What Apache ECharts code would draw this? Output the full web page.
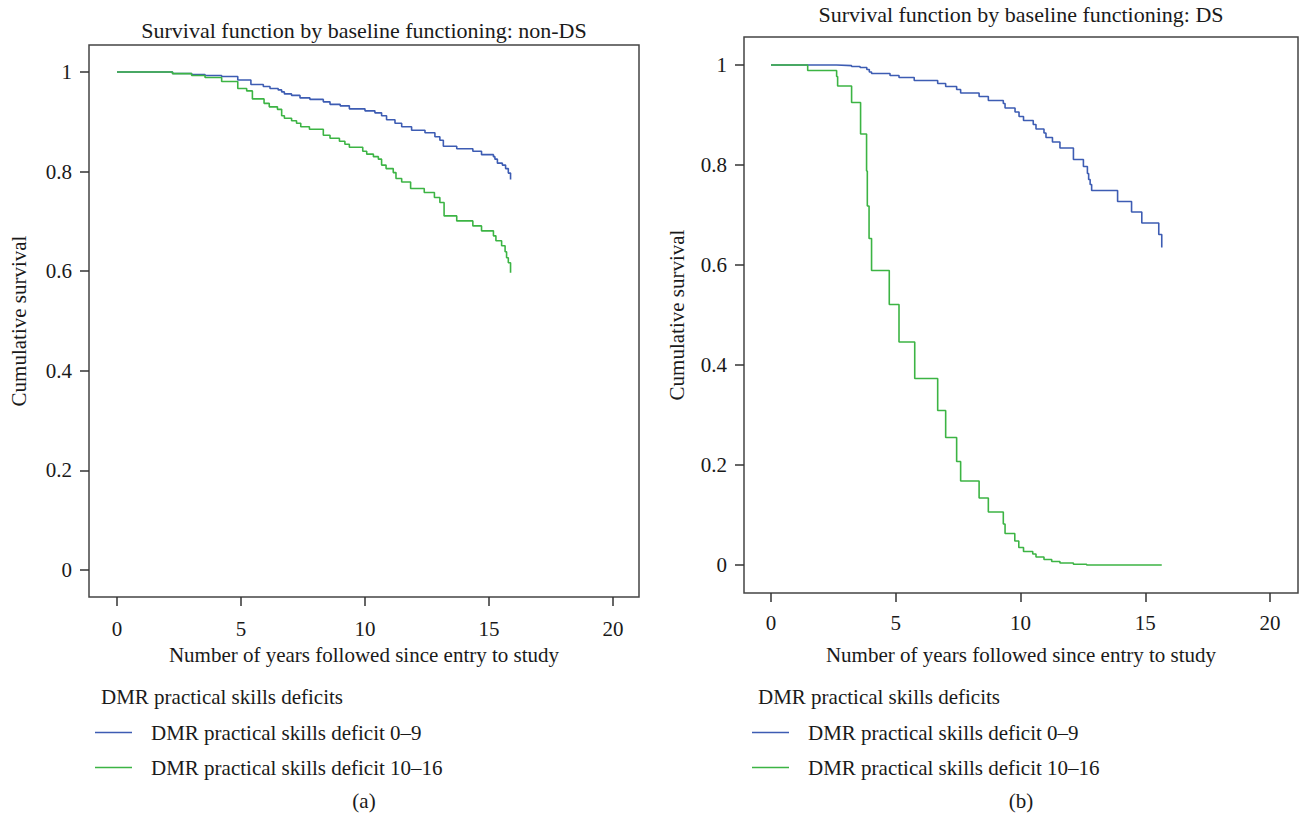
<!DOCTYPE html>
<html><head><meta charset="utf-8">
<script src="https://cdn.jsdelivr.net/npm/echarts@6/dist/echarts.min.js"></script>
<style>html,body{margin:0;padding:0;background:#fff}#c{width:1300px;height:815px}</style>
</head><body><div id="c"></div>
<script>
// ---- data ----
const xTicks = [0, 5, 10, 15, 20];
const yTicks = [0, 0.2, 0.4, 0.6, 0.8, 1];
const seriesNames = ['DMR practical skills deficit 0–9', 'DMR practical skills deficit 10–16'];
const legendTitle = 'DMR practical skills deficits';
const panelTitles = ['Survival function by baseline functioning: non-DS', 'Survival function by baseline functioning: DS'];
const panelCaptions = ['(a)', '(b)'];
const xName = 'Number of years followed since entry to study';
const yName = 'Cumulative survival';

// panel (a) non-DS, deficit 0–9
const aLowT = [0,2.24,3.01,3.55,4.22,4.87,5.40,5.90,6.17,6.50,6.64,6.75,7.04,7.38,7.78,8.32,8.59,9.00,9.37,10.00,10.40,10.67,10.87,11.21,11.48,11.88,12.42,12.82,13.02,13.16,13.70,14.35,14.70,15.18,15.24,15.34,15.54,15.67,15.78,15.87];
const aLowS = [1,0.997,0.995,0.993,0.991,0.984,0.975,0.971,0.967,0.964,0.960,0.956,0.953,0.948,0.945,0.940,0.935,0.932,0.926,0.922,0.918,0.912,0.904,0.897,0.890,0.883,0.878,0.870,0.863,0.851,0.846,0.841,0.834,0.830,0.825,0.817,0.813,0.806,0.797,0.784];
// panel (a) non-DS, deficit 10–16
const aHighT = [0,2.24,3.01,3.55,4.22,4.87,5.23,5.46,5.93,6.14,6.47,6.64,6.75,7.04,7.24,7.41,7.76,8.32,8.59,8.97,9.19,9.37,9.91,10.07,10.34,10.54,10.67,10.85,11.14,11.25,11.48,11.84,12.39,12.80,13.02,13.19,13.70,14.35,14.70,15.18,15.28,15.51,15.65,15.71,15.78,15.87];
const aHighS = [1,0.9967,0.993,0.989,0.981,0.967,0.962,0.946,0.937,0.930,0.925,0.912,0.907,0.902,0.897,0.890,0.885,0.873,0.867,0.861,0.855,0.849,0.841,0.835,0.830,0.825,0.813,0.806,0.798,0.786,0.779,0.766,0.758,0.748,0.738,0.711,0.701,0.691,0.681,0.671,0.661,0.651,0.639,0.627,0.617,0.597];
// panel (b) DS, deficit 0–9
const bLowT = [0,2.63,3.23,3.57,3.84,3.94,4.03,4.77,5.13,5.74,6.68,7.00,7.44,7.60,8.34,8.71,9.31,9.38,9.78,9.94,10.12,10.51,10.62,10.94,11.02,11.28,11.58,12.12,12.52,12.68,12.73,12.79,12.85,13.89,14.45,14.86,15.54,15.66];
const bLowS = [1,0.9987,0.997,0.995,0.991,0.986,0.983,0.979,0.975,0.969,0.963,0.957,0.951,0.944,0.937,0.929,0.923,0.914,0.906,0.897,0.889,0.881,0.872,0.864,0.855,0.846,0.834,0.811,0.797,0.783,0.771,0.761,0.749,0.727,0.706,0.684,0.661,0.635];
// panel (b) DS, deficit 10–16
const bHighT = [0,1.47,2.63,2.67,3.23,3.59,3.83,3.86,3.93,4.03,4.74,5.13,5.76,6.68,7.00,7.44,7.60,8.34,8.71,9.31,9.38,9.77,9.93,10.12,10.49,10.62,10.94,11.25,11.58,12.12,12.65,15.66];
const bHighS = [1,0.989,0.977,0.958,0.925,0.862,0.788,0.718,0.653,0.589,0.521,0.446,0.373,0.309,0.255,0.207,0.168,0.134,0.106,0.082,0.063,0.048,0.035,0.027,0.022,0.016,0.011,0.007,0.004,0.0015,0,0];

// ---- chart ----
const FONT = '"Liberation Serif", "DejaVu Serif", serif';
const TXT = '#1a1a1a';
const BLUE = '#3d5cb3';
const GREEN = '#3cb444';
const pairs = (t, s) => t.map((v, i) => [v, s[i]]);

function xAxisCfg(idx, min, max, margin, gap) {
  return {
    type: 'value', gridIndex: idx, min: min, max: max, position: 'bottom',
    axisLine: { show: false, onZero: false },
    splitLine: { show: false },
    axisTick: { show: true, inside: false, length: 9, customValues: xTicks, lineStyle: { color: '#333', width: 1.5 } },
    axisLabel: { customValues: xTicks, margin: margin, fontFamily: FONT, fontSize: 21, color: TXT },
    name: xName, nameLocation: 'middle', nameGap: gap,
    nameTextStyle: { fontFamily: FONT, fontSize: 21, color: TXT }
  };
}
function yAxisCfg(idx, min, max, gap) {
  return {
    type: 'value', gridIndex: idx, min: min, max: max, position: 'left',
    axisLine: { show: false, onZero: false },
    splitLine: { show: false },
    axisTick: { show: true, inside: false, length: 9, customValues: yTicks, lineStyle: { color: '#333', width: 1.5 } },
    axisLabel: { customValues: yTicks, margin: 17, fontFamily: FONT, fontSize: 21, color: TXT },
    name: yName, nameLocation: 'middle', nameGap: gap, nameRotate: 90,
    nameTextStyle: { fontFamily: FONT, fontSize: 21, color: TXT }
  };
}
function lineSeries(name, data, color, idx) {
  return {
    type: 'line', name: name, step: 'end', data: data,
    xAxisIndex: idx, yAxisIndex: idx,
    symbol: 'none', showSymbol: false,
    lineStyle: { color: color, width: 1.6 }, itemStyle: { color: color },
    emphasis: { disabled: true }, silent: true
  };
}
function txt(x, y, text, align, size) {
  return { type: 'text', x: x, y: y, silent: true,
    style: { text: text, fill: TXT, fontFamily: FONT, fontSize: size || 21,
      align: align || 'center', verticalAlign: 'middle',
      textAlign: align || 'center', textVerticalAlign: 'middle' } };
}
function legendCfg(left, top) {
  return {
    data: seriesNames, left: left, top: top, orient: 'vertical', padding: 0,
    icon: 'path://M0,0 L40,0 L40,1.6 L0,1.6 Z',
    itemWidth: 37, itemHeight: 1.6, itemGap: 14, selectedMode: false,
    textStyle: { fontFamily: FONT, fontSize: 21, color: TXT, padding: [0, 0, 0, 14] }
  };
}

const chart = echarts.init(document.getElementById('c'), null, { renderer: 'svg', width: 1300, height: 815 });
chart.setOption({
  animation: false,
  backgroundColor: '#fff',
  grid: [
    { left: 89, top: 45, width: 550, height: 552, show: true, borderColor: '#444', borderWidth: 1.5, backgroundColor: 'transparent' },
    { left: 744, top: 37, width: 554, height: 556, show: true, borderColor: '#444', borderWidth: 1.5, backgroundColor: 'transparent' }
  ],
  xAxis: [
    xAxisCfg(0, -1.129, 21.05, 21, 47),
    xAxisCfg(1, -1.082, 21.12, 19, 51)
  ],
  yAxis: [
    yAxisCfg(0, -0.0542, 1.0542, 60),
    yAxisCfg(1, -0.056, 1.056, 57)
  ],
  legend: [legendCfg(95, 722), legendCfg(752, 722)],
  series: [
    lineSeries(seriesNames[0], pairs(aLowT, aLowS), BLUE, 0),
    lineSeries(seriesNames[1], pairs(aHighT, aHighS), GREEN, 0),
    lineSeries(seriesNames[0], pairs(bLowT, bLowS), BLUE, 1),
    lineSeries(seriesNames[1], pairs(bHighT, bHighS), GREEN, 1)
  ],
  graphic: [
    txt(364, 30, panelTitles[0], 'center', 22),
    txt(1021, 14, panelTitles[1], 'center', 22),
    txt(101, 697, legendTitle, 'left'),
    txt(758, 697, legendTitle, 'left'),
    txt(364, 801, panelCaptions[0]),
    txt(1021, 801, panelCaptions[1])
  ]
});
</script>
</body></html>
